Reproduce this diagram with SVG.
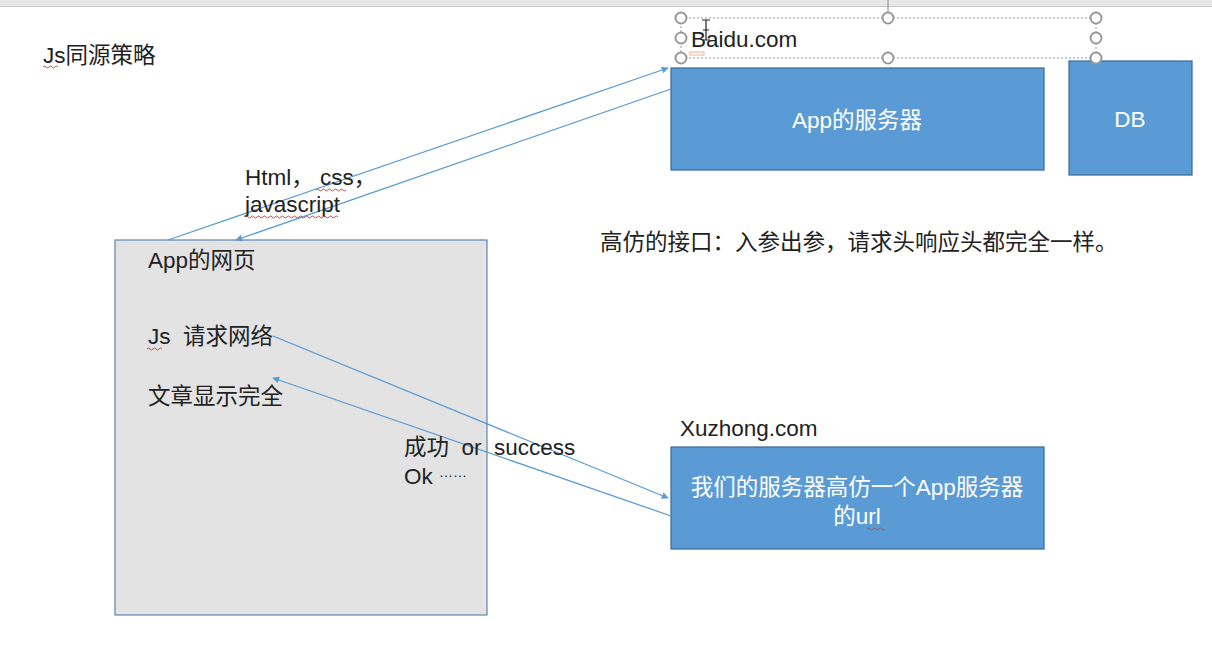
<svg xmlns="http://www.w3.org/2000/svg" width="1212" height="661" viewBox="0 0 1212 661">
<defs>
<style>
.t{font-family:"Liberation Sans","Noto Sans CJK SC",sans-serif;font-size:22.5px;fill:#222}
.w{font-family:"Liberation Sans","Noto Sans CJK SC",sans-serif;font-size:22.5px;fill:#fff;text-anchor:middle}
.cjk{font-family:"Liberation Sans",sans-serif;font-size:14px}
.box{fill:#5b9bd5;stroke:#41719c;stroke-width:1.3}
.conn{stroke:#5b9bd5;stroke-width:1.3;fill:none}
.h{fill:#fff;stroke:#999;stroke-width:2}
.sq{fill:none;stroke:#e04040;stroke-width:1}
</style>
<marker id="arr" viewBox="0 0 10 10" refX="9" refY="5" markerWidth="7" markerHeight="7" orient="auto" markerUnits="userSpaceOnUse">
<path d="M0,0 L10,5 L0,10 z" fill="#5b9bd5"/>
</marker>
</defs>
<rect x="0" y="0" width="1212" height="661" fill="#fff"/>
<rect x="0" y="0" width="1212" height="6" fill="#e8e8e8"/>
<line x1="0" y1="6.5" x2="1212" y2="6.5" stroke="#c8c8c8"/>

<text class="t" x="43" y="63">Js同源策略</text>
<path class="sq" d="M43,67 q1.5,-2 3,0 t3,0 t3,0 t3,0 t3,0"/>

<g id="app-server">
<rect class="box" x="671" y="68" width="373" height="102"/>
<text class="w" x="857" y="128">App的服务器</text>
</g>
<g id="db">
<rect class="box" x="1069" y="61" width="123" height="114"/>
<text class="w" x="1130" y="127">DB</text>
</g>

<g id="baidu-label">
<line x1="888" y1="0" x2="888" y2="12" stroke="#888"/>
<rect x="681" y="18" width="415" height="40" fill="none" stroke="#999" stroke-dasharray="2,2"/>
<text class="t" x="691" y="47">Baidu.com</text>
<rect x="690" y="52" width="14" height="3" fill="none" stroke="#f0b090" stroke-width="1"/>
<path d="M702,20 h8 M706,20 v20 M702,40 h8 M703,30 h6" stroke="#222" stroke-width="1.2" fill="none"/>
<circle class="h" cx="681" cy="18" r="5.5"/>
<circle class="h" cx="888" cy="18" r="5.5"/>
<circle class="h" cx="1096" cy="18" r="5.5"/>
<circle class="h" cx="681" cy="38" r="5.5"/>
<circle class="h" cx="1096" cy="38" r="5.5"/>
<circle class="h" cx="681" cy="58" r="5.5"/>
<circle class="h" cx="888" cy="58" r="5.5"/>
<circle class="h" cx="1096" cy="58" r="5.5"/>
</g>

<g id="app-page">
<rect x="115" y="240" width="372" height="375" fill="#e3e3e3" stroke="#5a86b4" stroke-width="1.2"/>
<text class="t" x="148" y="268">App的网页</text>
<text class="t" x="148" y="344" xml:space="preserve">Js  请求网络</text>
<path class="sq" d="M147,349 q1.5,-2 3,0 t3,0 t3,0 t3,0 t3,0"/>
<text class="t" x="148" y="404">文章显示完全</text>
</g>

<g id="fake-server">
<text class="t" x="680" y="436">Xuzhong.com</text>
<rect class="box" x="671" y="447" width="373" height="102"/>
<text class="w" x="857" y="495">我们的服务器高仿一个App服务器</text>
<text class="w" x="857" y="524">的url</text>
<path d="M867,529 q1.5,-2 3,0 t3,0 t3,0 t3,0 t3,0 t3,0" fill="none" stroke="#e04040" stroke-width="1"/>
</g>

<text class="t" x="600" y="250">高仿的接口：入参出参，请求头响应头都完全一样。</text>

<g id="connectors">
<line class="conn" x1="168" y1="240" x2="668" y2="68" marker-end="url(#arr)"/>
<line class="conn" x1="671" y1="89" x2="236" y2="240" marker-end="url(#arr)"/>
<line class="conn" x1="273" y1="336" x2="668" y2="498" marker-end="url(#arr)"/>
<line class="conn" x1="671" y1="516" x2="273" y2="378" marker-end="url(#arr)"/>
</g>

<g id="labels">
<text class="t" x="245" y="185" xml:space="preserve">Html， css，</text>
<path class="sq" d="M316,190 q1.5,-2 3,0 t3,0 t3,0 t3,0 t3,0 t3,0 t3,0 t3,0 t3,0 t3,0"/>
<text class="t" x="245" y="212">javascript</text>
<path class="sq" d="M245,217 q1.5,-2 3,0 t3,0 t3,0 t3,0 t3,0 t3,0 t3,0 t3,0 t3,0 t3,0 t3,0 t3,0 t3,0 t3,0 t3,0 t3,0 t3,0 t3,0 t3,0 t3,0 t3,0 t3,0 t3,0 t3,0 t3,0 t3,0 t3,0 t3,0 t3,0 t3,0 t3,0"/>
<text class="t" x="404" y="484">Ok <tspan class="cjk" dy="-7">……</tspan></text>
<text class="t" x="404" y="455" xml:space="preserve">成功  or  success</text>
</g>
</svg>
